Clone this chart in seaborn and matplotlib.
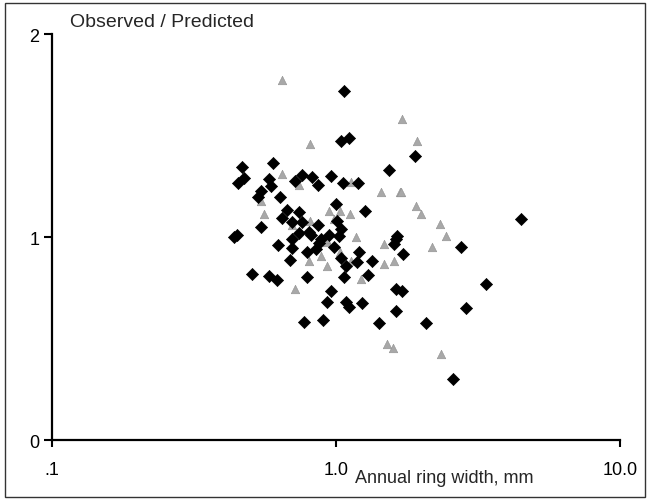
import matplotlib
matplotlib.use("Agg")
import matplotlib.pyplot as plt
import matplotlib.patches as patches
import seaborn as sns
import pandas as pd

# diamonds (black)
diamond_x = [0.467, 0.474, 0.452, 0.600, 0.581, 0.590, 0.544, 0.531, 0.635, 0.759,
             0.823, 0.865, 0.717, 0.672, 0.741, 0.645, 0.700, 0.759, 0.865, 0.544,
             0.437, 0.448, 0.625, 0.700, 0.700, 0.689, 0.506, 0.581, 0.620, 0.791,
             0.741, 0.817, 0.791, 0.850, 0.886, 0.771, 0.900, 0.930, 0.960, 1.058,
             1.195, 1.537, 1.000, 1.265, 1.041, 1.008, 1.640, 1.067, 1.041, 1.111,
             0.803, 1.025, 1.627, 1.600, 1.041, 1.205, 1.186, 1.339, 1.084, 1.721,
             1.067, 1.296, 0.960, 1.084, 1.111, 1.235, 1.627, 1.708, 1.627, 1.417,
             1.897, 4.480, 2.756, 3.374, 2.869, 2.074, 2.582, 0.870, 0.945, 0.984]
diamond_y = [1.345, 1.290, 1.266, 1.365, 1.286, 1.251, 1.227, 1.197, 1.197, 1.305,
             1.296, 1.256, 1.276, 1.133, 1.123, 1.094, 1.074, 1.074, 1.059, 1.049,
             1.000, 1.010, 0.961, 0.990, 0.946, 0.887, 0.818, 0.808, 0.788, 0.803,
             1.020, 1.010, 0.926, 0.941, 0.990, 0.581, 0.591, 0.680, 1.300, 1.266,
             1.266, 1.330, 1.163, 1.128, 1.039, 1.079, 1.005, 1.719, 1.473, 1.488,
             1.025, 1.005, 0.990, 0.966, 0.897, 0.926, 0.877, 0.882, 0.857, 0.916,
             0.803, 0.813, 0.734, 0.680, 0.655, 0.675, 0.744, 0.734, 0.635, 0.576,
             1.399, 1.089, 0.951, 0.768, 0.650, 0.576, 0.300, 0.970, 1.010, 0.951]

# triangles (grey)
triangle_x = [0.645, 0.810, 0.645, 0.741, 0.544, 0.558, 0.810, 1.129, 1.440, 1.680,
              0.945, 1.033, 1.120, 0.984, 1.176, 0.930, 1.476, 1.033, 0.886, 0.803,
              0.930, 1.129, 1.224, 1.476, 1.600, 0.700, 0.717, 1.708, 1.928, 1.694,
              1.913, 1.992, 2.323, 2.440, 2.178, 2.343, 1.512, 1.587, 0.922]
triangle_y = [1.773, 1.458, 1.310, 1.256, 1.177, 1.113, 1.079, 1.271, 1.222, 1.222,
              1.128, 1.128, 1.113, 1.089, 1.000, 0.975, 0.966, 0.926, 0.906, 0.882,
              0.857, 0.882, 0.793, 0.867, 0.882, 1.059, 0.744, 1.581, 1.473, 1.222,
              1.153, 1.113, 1.064, 1.005, 0.951, 0.424, 0.473, 0.453, 0.990]

df = pd.DataFrame({
    "width": diamond_x + triangle_x,
    "ratio": diamond_y + triangle_y,
    "group": ["d"] * len(diamond_x) + ["t"] * len(triangle_x),
})

sns.set_style("white")
plt.rcParams["font.family"] = ["Liberation Sans", "DejaVu Sans"]

fig = plt.figure(figsize=(6.5, 5.02), dpi=100)
ax = fig.add_axes([0.08, 0.1215, 0.874, 0.8085])

sns.scatterplot(data=df[df.group == "t"], x="width", y="ratio", marker="^",
                color="#a8a8a8", s=38, edgecolor="#909090", linewidth=0.4, ax=ax)
sns.scatterplot(data=df[df.group == "d"], x="width", y="ratio", marker="D",
                color="black", s=38, edgecolor="black", linewidth=0.5, ax=ax)

ax.set_xscale("log")
ax.set_xlim(0.1, 10)
ax.set_ylim(0, 2)
ax.set_xticks([0.1, 1, 10])
ax.set_xticklabels([".1", "1.0", "10.0"])
ax.minorticks_off()
ax.set_yticks([0, 1, 2])
ax.set_yticklabels(["0", "1", "2"])
ax.set_xlabel("")
ax.set_ylabel("")

for side in ["top", "right"]:
    ax.spines[side].set_visible(False)
for side in ["left", "bottom"]:
    ax.spines[side].set_color("black")
    ax.spines[side].set_linewidth(1.6)

ax.tick_params(axis="x", direction="out", length=5, width=1.5, pad=10,
               labelsize=13, colors="black", bottom=True)
ax.tick_params(axis="y", direction="out", length=6, width=1.5, pad=3,
               labelsize=13, colors="black", left=True)
ax.patch.set_alpha(0)

fig.text(0.546, 0.046, "Annual ring width, mm", ha="left", va="center", fontsize=13)
fig.text(0.108, 0.956, "Observed / Predicted", ha="left", va="center", fontsize=14)

fig.patches.append(patches.Rectangle((0.008, 0.008), 0.984, 0.984, transform=fig.transFigure,
                                     fill=False, edgecolor="#333333", linewidth=1.0))

fig.savefig("out.png", dpi=100)
